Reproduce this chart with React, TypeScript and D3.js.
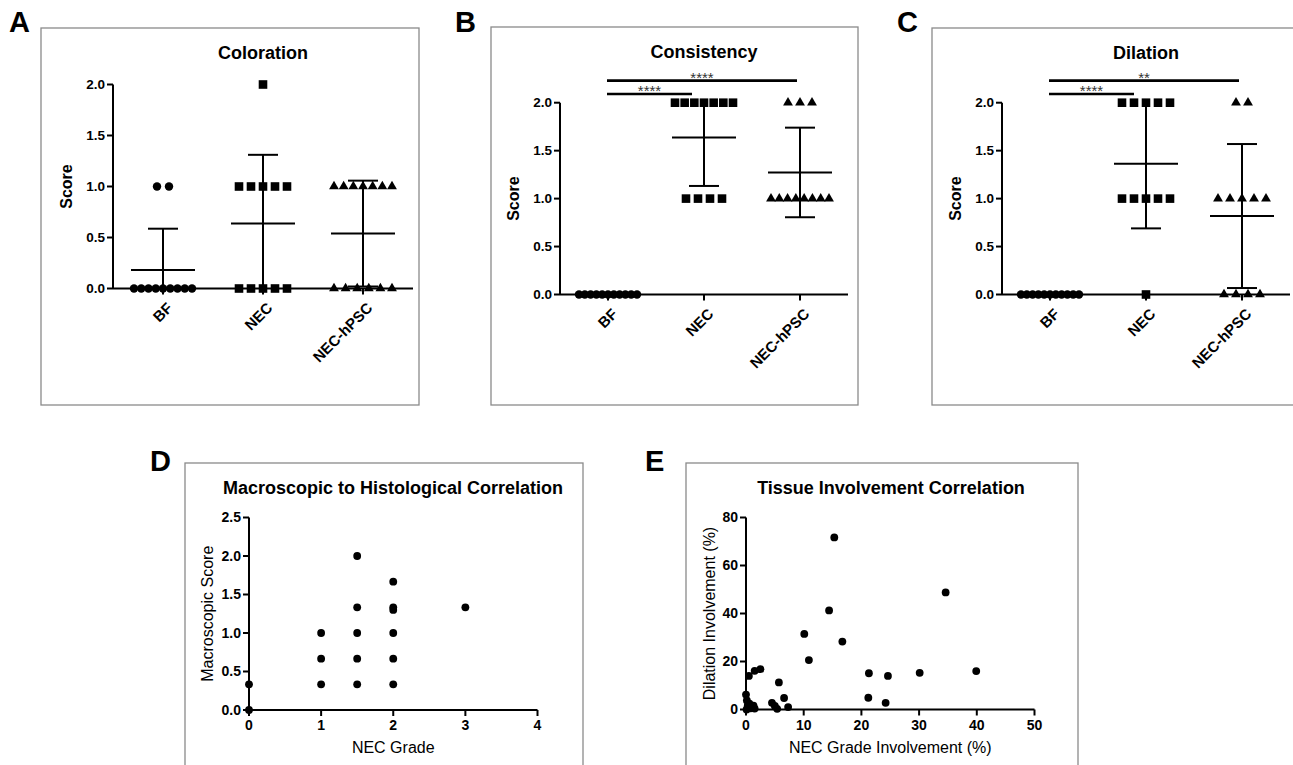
import React from 'react';
import * as d3 from 'd3';

const FONT = 'Arial, "Liberation Sans", Helvetica, sans-serif';

const groups = ['BF', 'NEC', 'NEC-hPSC'];
const markers = ['circle', 'square', 'triangle'];
const scoreTicks = [0, 0.5, 1, 1.5, 2];

// panel A - coloration scores
const colorationBF = [1, 1, 0, 0, 0, 0, 0, 0, 0, 0, 0];
const colorationNEC = [2, 1, 1, 1, 1, 1, 0, 0, 0, 0, 0];
const colorationHPSC = [1, 1, 1, 1, 1, 1, 1, 0, 0, 0, 0, 0, 0];

// panel B - consistency scores
const consistencyBF = [0, 0, 0, 0, 0, 0, 0, 0, 0, 0, 0];
const consistencyNEC = [2, 2, 2, 2, 2, 2, 2, 1, 1, 1, 1];
const consistencyHPSC = [2, 2, 2, 1, 1, 1, 1, 1, 1, 1, 1];
const consistencySig = [
  { from: 'BF', to: 'NEC', label: '****' },
  { from: 'BF', to: 'NEC-hPSC', label: '****' },
];

// panel C - dilation scores
const dilationBF = [0, 0, 0, 0, 0, 0, 0, 0, 0, 0, 0];
const dilationNEC = [2, 2, 2, 2, 2, 1, 1, 1, 1, 1, 0];
const dilationHPSC = [2, 2, 1, 1, 1, 1, 1, 0, 0, 0, 0];
const dilationSig = [
  { from: 'BF', to: 'NEC', label: '****' },
  { from: 'BF', to: 'NEC-hPSC', label: '**' },
];

// panel D - NEC grade vs macroscopic score
const dNecGrade = [0, 0, 1, 1, 1, 1.5, 1.5, 1.5, 1.5, 1.5, 2, 2, 2, 2, 2, 2, 3];
const dMacroScore = [0.333, 0, 1, 0.667, 0.333, 2, 1.333, 1, 0.667, 0.333, 1.667, 1.333, 1.3, 1, 0.667, 0.333, 1.333];
const dXTicks = [0, 1, 2, 3, 4];
const dYTicks = [0, 0.5, 1, 1.5, 2, 2.5];

// panel E - tissue involvement (%)
const eNecInvolvement = [15.3, 34.6, 14.4, 10.1, 16.7, 10.9, 21.3, 24.6, 30.1, 39.9, 21.2, 24.2, 0.5, 1.5, 2.5, 5.7, 6.6, 4.5, 5.0, 5.4, 7.3, 0, 0.15, 0.3, 0.8, 1.3, 1.5, 0.1, 0.6];
const eDilationInvolvement = [71.7, 48.8, 41.3, 31.5, 28.3, 20.6, 15.1, 14.0, 15.3, 16.0, 4.9, 2.8, 14.0, 16.1, 16.8, 11.3, 4.8, 2.8, 1.5, 0.3, 1.0, 6.2, 3.8, 1.6, 0.5, 1.6, 0.4, 0, 2.4];
const eXTicks = [0, 10, 20, 30, 40, 50];
const eYTicks = [0, 20, 40, 60, 80];

const symbolPath = {
  circle: d3.symbol().type(d3.symbolCircle).size(56)(),
  square: d3.symbol().type(d3.symbolSquare).size(74)(),
  triangle: d3.symbol().type(d3.symbolTriangle).size(42)(),
};

const Frame = ({ box, letter, letterX, letterY }) => (
  <g>
    <rect x={box[0]} y={box[1]} width={box[2] - box[0]} height={box[3] - box[1]} fill="none" stroke="#8a8a8a" strokeWidth={1.3} />
    <text x={letterX} y={letterY} fontSize={29} fontWeight="bold" fontFamily={FONT}>{letter}</text>
  </g>
);

function DotPanel({ box, letter, letterX, title, axisX, xRight, y0, y2, series, sig }) {
  const y = d3.scaleLinear().domain([0, 2]).range([y0, y2]);
  const x = d3.scaleBand().domain(groups).range([axisX, xRight]);
  const cx = (g) => x(g) + x.bandwidth() / 2;

  return (
    <g fontFamily={FONT}>
      <Frame box={box} letter={letter} letterX={letterX} letterY={32} />
      <text x={cx('NEC')} y={box[1] + 31} textAnchor="middle" fontSize={18} fontWeight="bold">{title}</text>
      <text transform={`translate(${axisX - 47},${(y0 + y2) / 2}) rotate(-90)`} dy="0.35em" textAnchor="middle" fontSize={16} fontWeight="bold">Score</text>

      {/* y axis */}
      <line x1={axisX} x2={axisX} y1={y(0)} y2={y(2)} stroke="#000" strokeWidth={2} />
      {scoreTicks.map((t) => (
        <g key={t}>
          <line x1={axisX - 6} x2={axisX} y1={y(t)} y2={y(t)} stroke="#000" strokeWidth={2} />
          <text x={axisX - 8} y={y(t)} dy="0.35em" textAnchor="end" fontSize={13.5} fontWeight="bold">{d3.format('.1f')(t)}</text>
        </g>
      ))}

      {/* points */}
      {series.map((vals, gi) => {
        const rows = d3.groups(vals, (v) => v);
        return rows.map(([v, row]) => {
          const n = row.length;
          const step = n > 1 ? Math.min(12, 58 / (n - 1)) : 0;
          return row.map((_, i) => (
            <path key={`${gi}-${v}-${i}`} d={symbolPath[markers[gi]]} transform={`translate(${cx(groups[gi]) + (i - (n - 1) / 2) * step},${y(v)})`} fill="#000" />
          ));
        });
      })}

      {/* x axis */}
      <line x1={axisX} x2={xRight} y1={y(0)} y2={y(0)} stroke="#000" strokeWidth={2} />
      {groups.map((g) => (
        <g key={g}>
          <line x1={cx(g)} x2={cx(g)} y1={y(0)} y2={y(0) + 6} stroke="#000" strokeWidth={2} />
          <text transform={`translate(${cx(g) + 3},${y(0) + 13}) rotate(-45)`} textAnchor="end" dy="0.7em" fontSize={15} fontWeight="bold">{g}</text>
        </g>
      ))}

      {/* mean ± SD */}
      {series.map((vals, gi) => {
        const m = d3.mean(vals);
        const sd = d3.deviation(vals) || 0;
        const c = cx(groups[gi]);
        const hi = m + sd;
        const lo = m - sd;
        return (
          <g key={gi} stroke="#000" strokeWidth={2}>
            <line x1={c - 32} x2={c + 32} y1={y(m)} y2={y(m)} />
            <line x1={c} x2={c} y1={y(Math.max(0, lo))} y2={y(Math.min(2, hi))} />
            {hi <= 2 && <line x1={c - 15} x2={c + 15} y1={y(hi)} y2={y(hi)} />}
            {lo >= 0 && <line x1={c - 15} x2={c + 15} y1={y(lo)} y2={y(lo)} />}
          </g>
        );
      })}

      {/* significance bars */}
      {sig &&
        sig.map((s, i) => {
          const by = y(i === 0 ? 2.09 : 2.23);
          const x1 = cx(s.from) - 1;
          const x2 = cx(s.to) - (i === 0 ? 12 : 3);
          return (
            <g key={i}>
              <line x1={x1} x2={x2} y1={by} y2={by} stroke="#000" strokeWidth={2.6} />
              <text x={(x1 + x2) / 2} y={by + 2} textAnchor="middle" fontSize={15} fill="#333">{s.label}</text>
            </g>
          );
        })}
    </g>
  );
}

function ScatterPanel({ box, letter, letterX, title, xs, ys, xScale, yScale, xTicks, yTicks, yFmt, xLabel, yLabel, yLabelX }) {
  const [xa, xb] = xScale.range();
  const [ya, yb] = yScale.range();
  return (
    <g fontFamily={FONT}>
      <Frame box={box} letter={letter} letterX={letterX} letterY={471} />
      <text x={(box[0] + box[2]) / 2 + 9} y={box[1] + 31} textAnchor="middle" fontSize={18} fontWeight="bold">{title}</text>
      <text transform={`translate(${yLabelX},${(ya + yb) / 2}) rotate(-90)`} dy="0.35em" textAnchor="middle" fontSize={16}>{yLabel}</text>
      <text x={(xa + xb) / 2} y={ya + 43} textAnchor="middle" fontSize={16}>{xLabel}</text>

      <line x1={xa} x2={xa} y1={ya} y2={yb} stroke="#000" strokeWidth={2} />
      {yTicks.map((t) => (
        <g key={t}>
          <line x1={xa - 6} x2={xa} y1={yScale(t)} y2={yScale(t)} stroke="#000" strokeWidth={2} />
          <text x={xa - 8} y={yScale(t)} dy="0.35em" textAnchor="end" fontSize={14} fontWeight="bold">{yFmt(t)}</text>
        </g>
      ))}
      <line x1={xa} x2={xb} y1={ya} y2={ya} stroke="#000" strokeWidth={2} />
      {xTicks.map((t) => (
        <g key={t}>
          <line x1={xScale(t)} x2={xScale(t)} y1={ya} y2={ya + 6} stroke="#000" strokeWidth={2} />
          <text x={xScale(t)} y={ya + 20} textAnchor="middle" fontSize={14} fontWeight="bold">{t}</text>
        </g>
      ))}
      {xs.map((v, i) => (
        <circle key={i} cx={xScale(v)} cy={yScale(ys[i])} r={3.9} fill="#000" />
      ))}
    </g>
  );
}

export default function App() {
  const dX = d3.scaleLinear().domain([0, 4]).range([249, 537.5]);
  const dY = d3.scaleLinear().domain([0, 2.5]).range([710, 517.5]);
  const eX = d3.scaleLinear().domain([0, 50]).range([746, 1034.5]);
  const eY = d3.scaleLinear().domain([0, 80]).range([709.5, 517.5]);

  return (
    <div style={{ position: 'absolute', left: 0, top: 0 }}>
      <svg width={1293} height={765} style={{ display: 'block', background: '#fff' }}>
        <DotPanel box={[41, 28, 419, 405]} letter="A" letterX={9} title="Coloration" axisX={113} xRight={413} y0={288.5} y2={84.5} series={[colorationBF, colorationNEC, colorationHPSC]} />
        <DotPanel box={[491, 27, 858, 405]} letter="B" letterX={455} title="Consistency" axisX={560} xRight={848} y0={294.5} y2={102.7} series={[consistencyBF, consistencyNEC, consistencyHPSC]} sig={consistencySig} />
        <DotPanel box={[932, 28, 1300, 405]} letter="C" letterX={897} title="Dilation" axisX={1002} xRight={1290} y0={294.5} y2={102.7} series={[dilationBF, dilationNEC, dilationHPSC]} sig={dilationSig} />
        <ScatterPanel box={[185, 463, 583, 775]} letter="D" letterX={150} title="Macroscopic to Histological Correlation" xs={dNecGrade} ys={dMacroScore} xScale={dX} yScale={dY} xTicks={dXTicks} yTicks={dYTicks} yFmt={d3.format('.1f')} xLabel="NEC Grade" yLabel="Macroscopic Score" yLabelX={207} />
        <ScatterPanel box={[686, 463, 1078, 775]} letter="E" letterX={645} title="Tissue Involvement Correlation" xs={eNecInvolvement} ys={eDilationInvolvement} xScale={eX} yScale={eY} xTicks={eXTicks} yTicks={eYTicks} yFmt={d3.format('d')} xLabel="NEC Grade Involvement (%)" yLabel="Dilation Involvement (%)" yLabelX={709} />
      </svg>
    </div>
  );
}
